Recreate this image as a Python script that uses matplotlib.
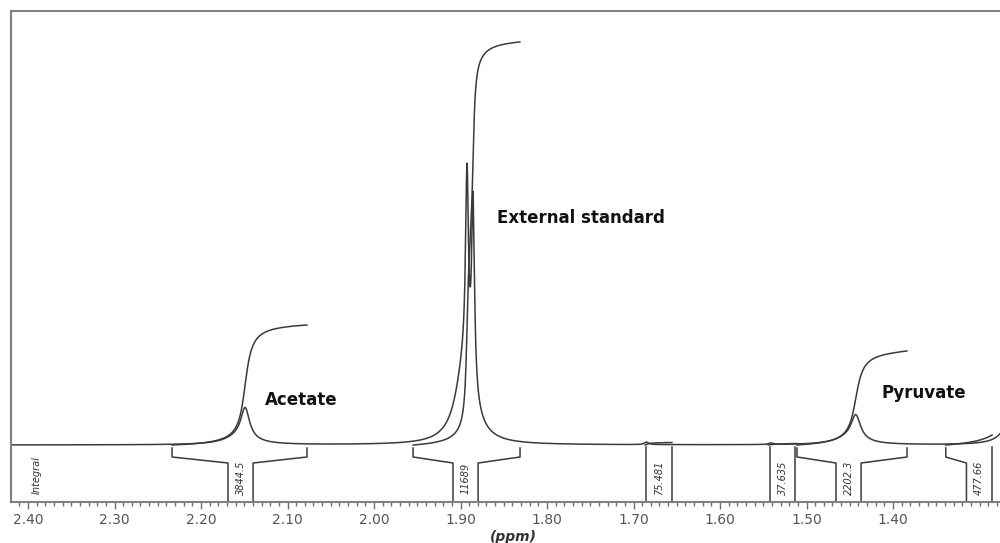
import numpy as np
import matplotlib.pyplot as plt
from matplotlib.ticker import MultipleLocator, FixedLocator

# peak lines (ppm, height above baseline, FWHM in ppm)
line_ppm = [2.149, 1.8925, 1.8855, 1.685, 1.541, 1.443, 1.262]
line_height = [30, 191, 188, 2.5, 1.5, 24, 30]
line_width = [0.012, 0.004, 0.004, 0.006, 0.006, 0.013, 0.022]

# broad feet under the main peaks
feet_ppm = [2.155, 1.895, 1.45]
feet_height = [8, 80, 7]
feet_width = [0.04, 0.025, 0.04]

# integral regions
region_start = [2.2335, 1.9549, 1.6867, 1.5445, 1.5110, 1.3390]
region_end = [2.0775, 1.8312, 1.6555, 1.5110, 1.3838, 1.2855]
region_label_ppm = [2.1543, 1.8942, 1.6705, 1.5277, 1.4514, 1.3006]
region_rise = [120, 403, 2.5, 1.5, 94, 10]
region_value = ['3844.5', '11689', '75.481', '37.635', '2202.3', '477.66']

compounds = ['Acetate', 'External standard', 'Pyruvate']
compound_ppm = [2.0844, 1.7607, 1.3642]
compound_y = [45, 227, 52]

tick_values = [2.40, 2.30, 2.20, 2.10, 2.00, 1.90, 1.80, 1.70, 1.60, 1.50, 1.40]


def lorentz(x, c, h, w):
    return h / (1 + (2 * (x - c) / w) ** 2)


ppm = np.arange(1.27, 2.43, 0.0002)
lines_only = np.zeros_like(ppm)
for c, h, w in zip(line_ppm, line_height, line_width):
    lines_only += lorentz(ppm, c, h, w)
spectrum = lines_only.copy()
for c, h, w in zip(feet_ppm, feet_height, feet_width):
    spectrum += lorentz(ppm, c, h, w)

col = '#3a3a3a'
fig = plt.figure(figsize=(10, 5.43), dpi=100)
ax = fig.add_axes([0.011, 0.0755, 0.989, 0.9043])
ax.set_xlim(2.4197, 1.2763)
ax.set_ylim(-57, 434)

ax.plot(ppm, spectrum, color=col, lw=1.1)

# integral curves (ppm grid runs upward, so integrate from high ppm down)
for s, e, r in zip(region_start, region_end, region_rise):
    m = (ppm <= s) & (ppm >= e)
    xs = ppm[m][::-1]
    ys = lines_only[m][::-1]
    cum = np.concatenate([[0], np.cumsum((ys[1:] + ys[:-1]) / 2)])
    cum = cum / cum[-1] * r
    ax.plot(xs, cum, color=col, lw=1.1)

# integral brackets
half = 0.0145
for s, e, lp, v in zip(region_start, region_end, region_label_ppm, region_value):
    vl = min(lp + half, s)
    vr = max(lp - half, e)
    if s - vl > 0.004:
        ax.plot([s, s, vl, vl], [-3, -12, -18, -57], color=col, lw=1.1)
    else:
        ax.plot([vl, vl], [-2, -57], color=col, lw=1.1)
    if vr - e > 0.004:
        ax.plot([e, e, vr, vr], [-3, -12, -18, -57], color=col, lw=1.1)
    else:
        ax.plot([vr, vr], [-2, -57], color=col, lw=1.1)
    ax.text(lp, -33, v, rotation=90, ha='center', va='center',
            fontsize=7, fontstyle='italic', color='#333333')

ax.text(2.3896, -30, 'Integral', rotation=90, ha='center', va='center',
        fontsize=7, fontstyle='italic', color='#333333')

for name, x, y in zip(compounds, compound_ppm, compound_y):
    ax.text(x, y, name, ha='center', va='center', fontsize=12,
            fontweight='bold', family='DejaVu Sans', color='#111111')

for side in ['left', 'top', 'bottom']:
    ax.spines[side].set_color('#808080')
    ax.spines[side].set_linewidth(1.5)
ax.spines['right'].set_visible(False)
ax.set_yticks([])
ax.xaxis.set_major_locator(FixedLocator(tick_values))
ax.xaxis.set_minor_locator(MultipleLocator(0.01))
ax.set_xticklabels(['%.2f' % t for t in tick_values])
ax.tick_params(axis='x', which='major', length=5, width=1, color='#707070',
               labelsize=10, labelcolor='#555555', pad=3)
ax.tick_params(axis='x', which='minor', length=3, width=1, color='#707070')
ax.set_xlabel('(ppm)', fontsize=10, fontweight='bold', fontstyle='italic',
              color='#333333')
ax.xaxis.set_label_coords(0.508, -0.058)

fig.savefig('out.png', dpi=100)
